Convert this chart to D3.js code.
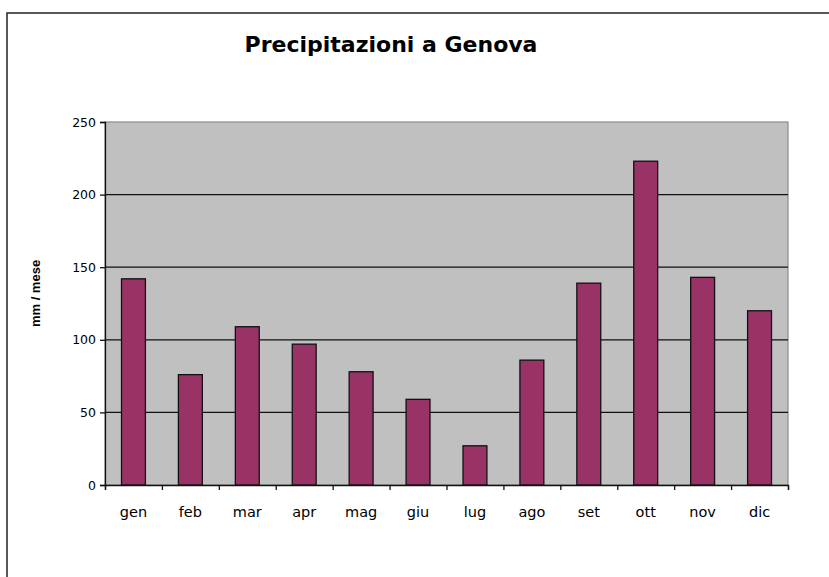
<!DOCTYPE html>
<html>
<head>
<meta charset="utf-8">
<script src="https://cdn.jsdelivr.net/npm/d3@7"></script>
<style>
  body { margin: 0; background: #fff; }
  text { font-family: "DejaVu Sans", "Liberation Sans", Arial, sans-serif; fill: #000; }
</style>
</head>
<body>
<script>
// data
var months = ["gen","feb","mar","apr","mag","giu","lug","ago","set","ott","nov","dic"],
    rain = [142, 76, 109, 97, 78, 59, 27, 86, 139, 223, 143, 120],
    yTicks = [0, 50, 100, 150, 200, 250];

var width = 829, height = 577,
    margin = {left:105, top:122, right:41, bottom:92},
    plotW = width - margin.left - margin.right,
    plotH = height - margin.top - margin.bottom;

var svg = d3.select("body").append("svg").attr("width",width).attr("height",height);

// outer frame
svg.append("rect").attr("x",7).attr("y",13).attr("width",830).attr("height",600)
   .attr("fill","none").attr("stroke","#222").attr("stroke-width",1.5);

svg.append("text").attr("x",391).attr("y",52).attr("text-anchor","middle")
   .style("font-size","22px").style("font-weight","bold")
   .text("Precipitazioni a Genova");

var chartGroup = svg.append("g").attr("transform","translate("+margin.left+","+margin.top+")");

var y = d3.scaleLinear().domain([0,250]).range([plotH,0]),
    x = d3.scaleBand().domain(months).range([0,plotW]).paddingInner(0.58).paddingOuter(0.29);

// plot area
chartGroup.append("rect").attr("width",plotW).attr("height",plotH)
   .attr("fill","#c0c0c0").attr("stroke","#8a8a8a").attr("stroke-width",1.2);

// gridlines
chartGroup.selectAll("line.grid").data(yTicks.filter(function(d){ return d > 0 && d < 250; }))
   .enter().append("line").attr("class","grid")
   .attr("x1",0).attr("x2",plotW)
   .attr("y1",function(d){ return y(d); }).attr("y2",function(d){ return y(d); })
   .attr("stroke","#111").attr("stroke-width",1.3);

// bars
chartGroup.selectAll("rect.bar").data(rain).enter().append("rect").attr("class","bar")
   .attr("x",function(d,i){ return x(months[i]); })
   .attr("width",x.bandwidth())
   .attr("y",function(d){ return y(d); })
   .attr("height",function(d){ return plotH - y(d); })
   .attr("fill","#993366").attr("stroke","#111").attr("stroke-width",1.3);

// y axis
var yAxis = d3.axisLeft(y).tickValues(yTicks).tickSize(5).tickPadding(4);
var gy = chartGroup.append("g").call(yAxis);
gy.attr("font-family",null).attr("font-size",null);
gy.selectAll("text").style("font-size","12.5px");
gy.selectAll("line, path").attr("stroke","#111").attr("stroke-width",1.3);

// x axis with ticks at category boundaries
var xb = d3.scaleLinear().domain([0,12]).range([0,plotW]);
var gx = chartGroup.append("g").attr("transform","translate(0,"+plotH+")")
   .call(d3.axisBottom(xb).ticks(12).tickSize(5).tickFormat(""));
gx.selectAll("line, path").attr("stroke","#111").attr("stroke-width",1.3);
chartGroup.selectAll("text.xlab").data(months).enter().append("text").attr("class","xlab")
   .attr("x",function(d){ return x(d) + x.bandwidth()/2; })
   .attr("y",plotH + 32).attr("text-anchor","middle")
   .style("font-size","14.5px")
   .text(function(d){ return d; });

// y label
svg.append("text").attr("transform","translate(40,"+(margin.top+plotH/2-10)+") rotate(-90)")
   .attr("text-anchor","middle").style("font-size","13px").style("font-weight","bold")
   .style("font-family","'Liberation Sans', Arial, sans-serif")
   .text("mm / mese");
</script>
</body>
</html>
